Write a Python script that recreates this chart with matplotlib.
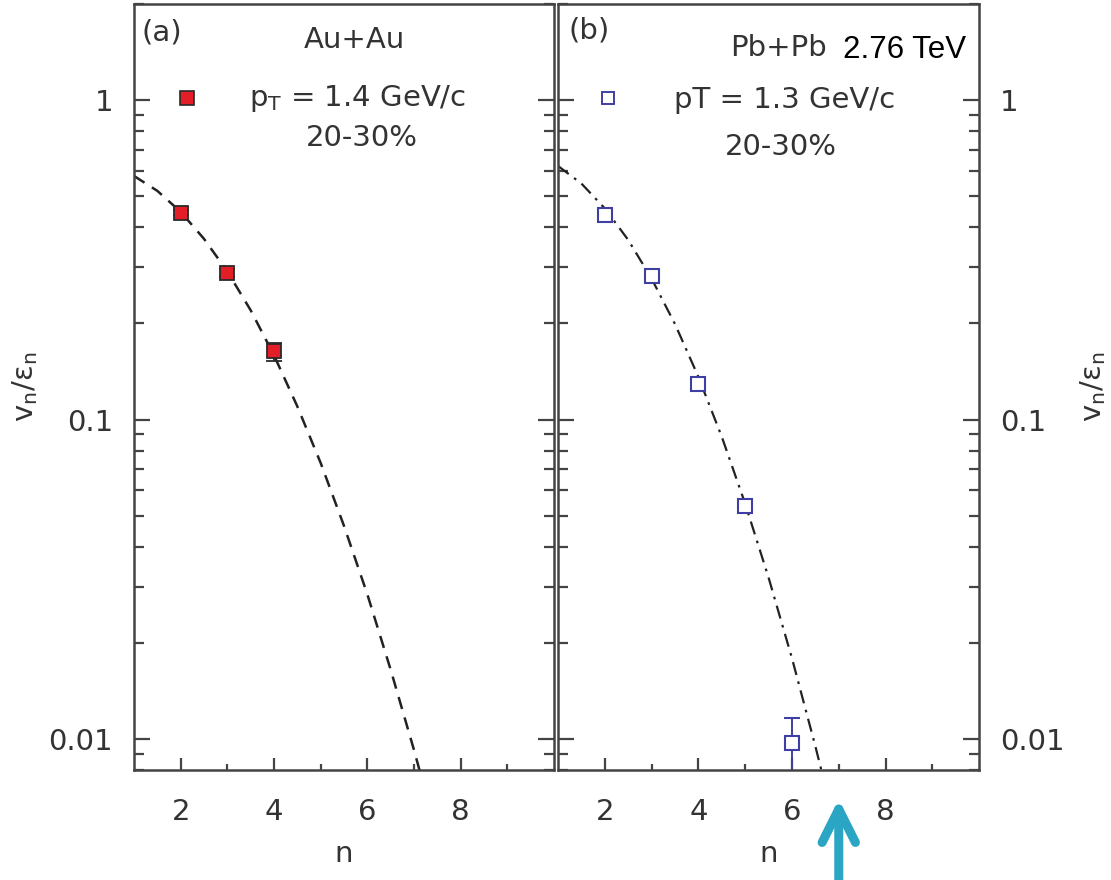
import numpy as np
import matplotlib
matplotlib.use("Agg")
import matplotlib.pyplot as plt
from matplotlib.ticker import FixedLocator, FuncFormatter, LogLocator, NullFormatter

plt.rcParams['font.family'] = ['DejaVu Sans']
plt.rcParams['mathtext.fontset'] = 'dejavusans'

# (a) Au+Au, pT = 1.4 GeV/c, 20-30%
n_au = [2, 3, 4]
v_au = [0.444, 0.288, 0.164]
err_au_lo = [0.008, 0.008, 0.011]
err_au_hi = [0.008, 0.008, 0.010]

# dashed fit curve (a)
n_fit_au = [1.0, 1.5, 2.0, 2.5, 3.0, 3.5, 4.0, 4.5, 5.0, 5.5, 6.0, 6.5, 7.0, 7.2]
v_fit_au = [0.579, 0.520, 0.447, 0.368, 0.291, 0.220, 0.159, 0.110, 0.0732,
            0.0465, 0.0284, 0.0165, 0.00925, 0.00723]

# (b) Pb+Pb 2.76 TeV, pT = 1.3 GeV/c, 20-30%
n_pb = [2, 3, 4, 5, 6]
v_pb = [0.437, 0.282, 0.129, 0.0537, 0.0097]
err_pb_lo = [0.006, 0.005, 0.002, 0.001, 0.0037]
err_pb_hi = [0.006, 0.005, 0.002, 0.001, 0.0019]

# dash-dot fit curve (b)
n_fit_pb = [1.0, 1.5, 2.0, 2.5, 3.0, 3.5, 4.0, 4.5, 5.0, 5.5, 6.0, 6.5, 6.7]
v_fit_pb = [0.622, 0.548, 0.458, 0.365, 0.276, 0.199, 0.136, 0.0883, 0.0545,
            0.0320, 0.0179, 0.00949, 0.00725]

arrow_n = 7

txt_col = '#333333'
spine_col = '#444444'
fs = 21

fig = plt.figure(figsize=(11.11, 8.8), dpi=100)
ax1 = fig.add_axes([0.1206, 0.125, 0.378, 0.8705])
ax2 = fig.add_axes([0.5023, 0.125, 0.379, 0.8705])

for ax in (ax1, ax2):
    ax.set_yscale('log')
    ax.set_xlim(1, 10)
    ax.set_ylim(0.008, 2)
    ax.xaxis.set_major_locator(FixedLocator([2, 4, 6, 8]))
    ax.xaxis.set_minor_locator(FixedLocator([3, 5, 7, 9]))
    ax.yaxis.set_major_locator(FixedLocator([0.01, 0.1, 1]))
    ax.yaxis.set_major_formatter(FuncFormatter(lambda v, p: {0.01: '0.01', 0.1: '0.1', 1: '1'}.get(round(v, 3), '')))
    ax.yaxis.set_minor_locator(LogLocator(base=10, subs=np.arange(2, 10)))
    ax.yaxis.set_minor_formatter(NullFormatter())
    ax.tick_params(which='both', direction='in', left=True, right=True, top=False,
                   color=spine_col, width=1.6, labelcolor=txt_col, labelsize=fs)
    ax.tick_params(axis='x', which='major', length=8.5, pad=20)
    ax.tick_params(axis='x', which='minor', length=4.5)
    ax.tick_params(axis='y', which='major', length=11.5, pad=15)
    ax.tick_params(axis='y', which='minor', length=7)
    for s in ax.spines.values():
        s.set_color(spine_col)
        s.set_linewidth(1.8)
    ax.set_xlabel('n', fontsize=fs, color=txt_col, labelpad=10)

ax2.tick_params(axis='y', which='both', labelleft=False, labelright=True)

ylab = r'v$_\mathregular{n}$/ε$_\mathregular{n}$'
ax1.set_ylabel(ylab, fontsize=fs, color=txt_col, labelpad=6)
ax2.yaxis.set_label_position('right')
ax2.set_ylabel(ylab, fontsize=fs, color=txt_col, labelpad=10, rotation=90)

# panel (a)
ax1.plot(n_fit_au, v_fit_au, color='#222222', lw=1.8, ls=(0, (5, 3.5)))
ax1.errorbar(n_au, v_au, yerr=[err_au_lo, err_au_hi], fmt='s', ms=10,
             mfc='#e41e26', mec='#2a2a2a', mew=1.3, ecolor='#2a2a2a',
             elinewidth=1.3, capsize=6, capthick=1.5)
ax1.plot([0.126], [0.877], 's', ms=9.5, mfc='#e41e26', mec='#2a2a2a', mew=1.2,
         transform=ax1.transAxes)
ax1.text(0.019, 0.963, '(a)', transform=ax1.transAxes, fontsize=fs, color=txt_col,
         ha='left', va='center')
ax1.text(0.526, 0.953, 'Au+Au', transform=ax1.transAxes, fontsize=fs, color=txt_col,
         ha='center', va='center')
ax1.text(0.533, 0.876, r'p$_\mathregular{T}$ = 1.4 GeV/c', transform=ax1.transAxes,
         fontsize=fs, color=txt_col, ha='center', va='center')
ax1.text(0.543, 0.825, '20-30%', transform=ax1.transAxes, fontsize=fs, color=txt_col,
         ha='center', va='center')

# panel (b)
ax2.plot(n_fit_pb, v_fit_pb, color='#222222', lw=1.6, ls=(0, (6, 3, 1.2, 3)))
ax2.errorbar(n_pb, v_pb, yerr=[err_pb_lo, err_pb_hi], fmt='s', ms=9.5,
             mfc='white', mec='#3f3fa3', mew=1.5, ecolor='#3f3fa3',
             elinewidth=1.4, capsize=6, capthick=1.4)
ax2.plot([0.119], [0.877], 's', ms=8, mfc='white', mec='#3f3fa3', mew=1.4,
         transform=ax2.transAxes)
ax2.text(0.024, 0.966, '(b)', transform=ax2.transAxes, fontsize=fs, color=txt_col,
         ha='left', va='center')
ax2.text(0.523, 0.943, 'Pb+Pb', transform=ax2.transAxes, fontsize=fs, color=txt_col,
         ha='center', va='center')
ax2.text(0.824, 0.940, '2.76 TeV', transform=ax2.transAxes, fontsize=22.5, color='black',
         ha='center', va='center', family='Liberation Sans')
ax2.text(0.537, 0.875, 'pT = 1.3 GeV/c', transform=ax2.transAxes, fontsize=fs,
         color=txt_col, ha='center', va='center')
ax2.text(0.530, 0.813, '20-30%', transform=ax2.transAxes, fontsize=fs, color=txt_col,
         ha='center', va='center')

# arrow under panel (b)
ax2.annotate('', xy=(arrow_n, 0.092), xycoords=('data', 'figure fraction'),
             xytext=(arrow_n, -0.01), textcoords=('data', 'figure fraction'),
             annotation_clip=False,
             arrowprops=dict(arrowstyle='->,head_length=1.2,head_width=0.6',
                             color='#2ba5c4', lw=6.5, mutation_scale=20,
                             shrinkA=0, shrinkB=0,
                             capstyle='round', joinstyle='round'))

fig.savefig('out.png', dpi=100)
